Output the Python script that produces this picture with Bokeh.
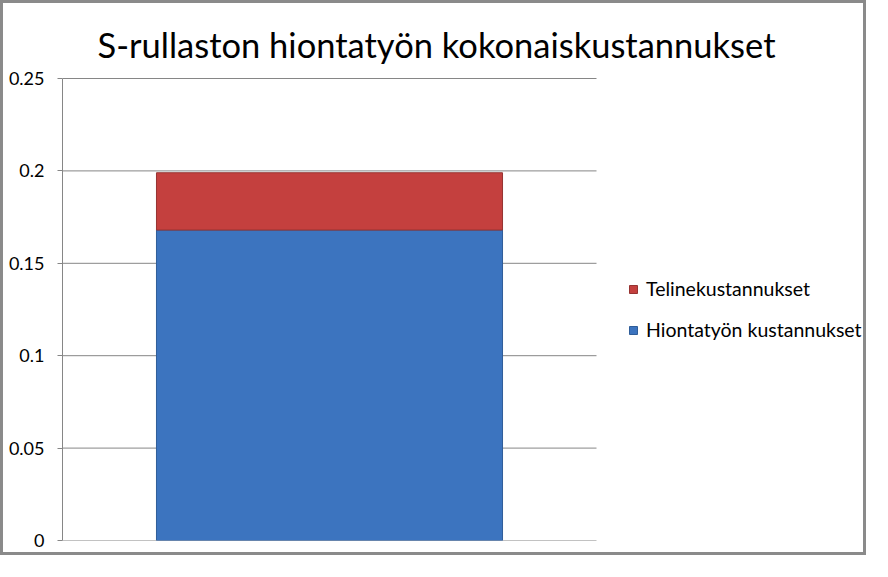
from bokeh.plotting import figure
from bokeh.models import (ColumnDataSource, Range1d, FixedTicker,
                          Legend, LegendItem, Label)
from bokeh.embed import file_html
from bokeh.resources import INLINE

# ---- data ----
categories = ["S-rullasto"]
hionta = [0.168]        # Hiontatyön kustannukset
teline = [0.031]        # Telinekustannukset
series_names = ["Hiontatyön kustannukset", "Telinekustannukset"]
y_ticks = [0, 0.05, 0.1, 0.15, 0.2, 0.25]
y_tick_labels = ["0", "0.05", "0.1", "0.15", "0.2", "0.25"]
title_text = "S-rullaston hiontatyön kokonaiskustannukset"

FONT = "Lato"
GRID = "#868686"

# ---- layout (pixels) ----
W, H = 866, 555            # canvas (plus 3px css border each side -> 872 x 561)
LEFT, BOTTOM = 59, 18      # space for the y axis / below the plot area
PLOT_W, PLOT_H = 534, 462  # size of the plotted area inside the frame
FRAME_W, FRAME_H = W - LEFT, H - BOTTOM

n = len(categories)
y_max = y_ticks[-1]
x_pos = [i + 0.5 for i in range(n)]

src = ColumnDataSource(dict(x=x_pos, hionta=hionta, teline=teline))

p = figure(width=W, height=H, output_backend="svg", toolbar_location=None,
           x_range=Range1d(0, n * FRAME_W / PLOT_W),
           y_range=Range1d(0, y_max * FRAME_H / PLOT_H),
           min_border_left=LEFT, min_border_right=0,
           min_border_top=0, min_border_bottom=BOTTOM,
           background_fill_color="white", border_fill_color="white",
           styles={"border": "3px solid #8a8a8a"})
p.outline_line_color = None
p.title.visible = False
p.xgrid.grid_line_color = None
p.ygrid.grid_line_color = None
p.xaxis.visible = False

# horizontal gridlines across the plot area only
p.segment(x0=[0] * len(y_ticks), x1=[n] * len(y_ticks), y0=y_ticks, y1=y_ticks,
          line_color=GRID, line_width=1)

r = p.vbar_stack(["hionta", "teline"], x="x", width=0.648, source=src,
                 fill_color=["#3c74bf", "#c4403e"],
                 line_color=["#2f5d99", "#963331"], line_width=1)

# y axis
p.yaxis.bounds = (0, y_max)
p.yaxis.ticker = FixedTicker(ticks=y_ticks)
p.yaxis.major_label_overrides = {t: l for t, l in zip(y_ticks, y_tick_labels)}
p.yaxis.axis_line_color = GRID
p.yaxis.major_tick_line_color = GRID
p.yaxis.major_tick_out = 5
p.yaxis.major_tick_in = 0
p.yaxis.minor_tick_line_color = None
p.yaxis.major_label_text_font = FONT
p.yaxis.major_label_text_font_size = "18px"
p.yaxis.major_label_text_color = "black"
p.yaxis.major_label_standoff = 13

# title
p.add_layout(Label(x=374, y=FRAME_H - 41, x_units="screen", y_units="screen",
                   text=title_text, text_font=FONT, text_font_size="34.5px",
                   text_align="center", text_baseline="alphabetic",
                   text_color="black"))

legend = Legend(items=[
    LegendItem(label=series_names[1], renderers=[r[1]]),
    LegendItem(label=series_names[0], renderers=[r[0]]),
], location=(566, 199))
legend.border_line_color = None
legend.background_fill_alpha = 0
legend.padding = 0
legend.margin = 0
legend.spacing = 18
legend.glyph_width = 10
legend.glyph_height = 10
legend.label_height = 21
legend.label_standoff = 8
legend.label_text_font = FONT
legend.label_text_font_size = "19.5px"
legend.label_text_color = "black"
p.add_layout(legend, "center")

open("out.html", "w").write(file_html(p, INLINE))
